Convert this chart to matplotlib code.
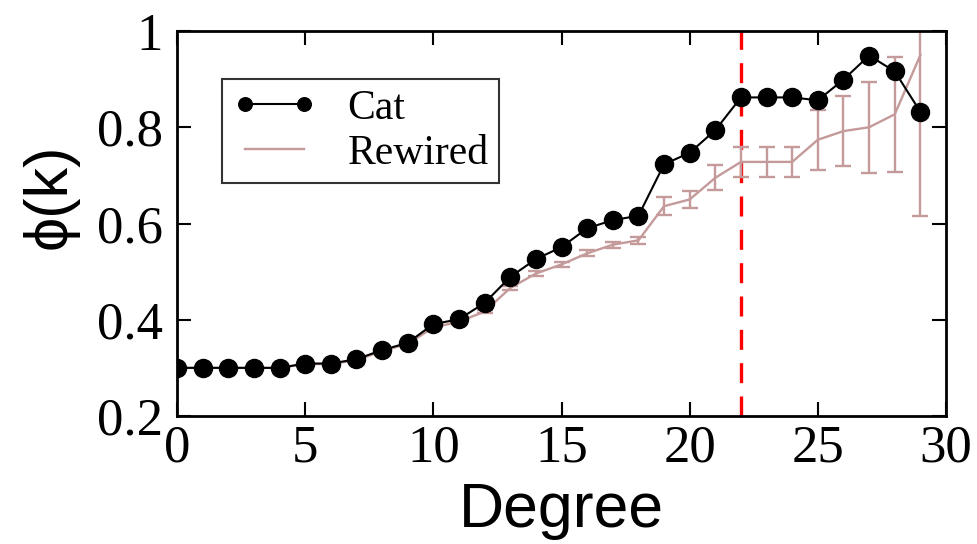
import matplotlib
matplotlib.use("Agg")
import matplotlib.pyplot as plt
from matplotlib.lines import Line2D

degree = list(range(30))
cat = [0.300, 0.300, 0.300, 0.300, 0.300, 0.309, 0.309, 0.318, 0.337, 0.352,
       0.391, 0.401, 0.435, 0.489, 0.526, 0.551, 0.590, 0.607, 0.616, 0.723,
       0.747, 0.794, 0.862, 0.862, 0.862, 0.856, 0.899, 0.949, 0.916, 0.832]
rewired = [0.300, 0.300, 0.300, 0.300, 0.300, 0.308, 0.308, 0.316, 0.335, 0.350,
           0.384, 0.396, 0.417, 0.466, 0.496, 0.515, 0.538, 0.556, 0.565, 0.636,
           0.650, 0.695, 0.728, 0.728, 0.728, 0.774, 0.792, 0.800, 0.827, 0.950]
rewired_err = [0.0, 0.0, 0.0, 0.0, 0.0, 0.0, 0.0, 0.001, 0.001, 0.002,
               0.002, 0.003, 0.004, 0.005, 0.005, 0.005, 0.006, 0.006, 0.007, 0.019,
               0.017, 0.026, 0.031, 0.031, 0.031, 0.062, 0.072, 0.095, 0.120, 0.334]
threshold = 22
xticks = [0, 5, 10, 15, 20, 25, 30]
yticks = [0.2, 0.4, 0.6, 0.8, 1.0]
ytick_labels = ["0.2", "0.4", "0.6", "0.8", "1"]

fig = plt.figure(figsize=(9.77, 5.44), dpi=100)
ax = fig.add_axes([0.1812, 0.2353, 0.7871, 0.7077])

rw_color = "#C49A9A"
ax.errorbar(degree, rewired, yerr=rewired_err, color=rw_color, lw=1.7,
            capsize=6, capthick=1.7, elinewidth=1.7, zorder=2)
ax.plot(degree, cat, color="black", lw=1.5, marker="o", markersize=13, zorder=3)
ax.axvline(threshold, color="red", lw=2.4, ls=(0, (6, 4)), zorder=1)

ax.set_xlim(0, 30)
ax.set_ylim(0.2, 1.0)
ax.set_xticks(xticks)
ax.set_yticks(yticks)
ax.set_yticklabels(ytick_labels)
serif = "Liberation Serif"
for lab in ax.get_xticklabels() + ax.get_yticklabels():
    lab.set_fontfamily(serif)
    lab.set_fontsize(38)
ax.tick_params(direction="in", length=10, width=1.5, top=True, right=True)
ax.tick_params(axis="y", pad=10)
ax.tick_params(axis="x", pad=6)
for s in ax.spines.values():
    s.set_linewidth(2)

ax.set_xlabel("Degree", fontsize=45, family="Liberation Sans", labelpad=6)
ax.set_ylabel("\u03d5(k)", fontsize=44, family=["Liberation Sans", "DejaVu Sans"])
ax.yaxis.set_label_coords(-0.128, 0.571)

h_cat = Line2D([], [], color="black", lw=1.5, marker="o", markersize=13)
h_rw = Line2D([], [], color=rw_color, lw=1.7)
leg = ax.legend([h_cat, h_rw], ["Cat", "Rewired"],
                loc="upper left", bbox_to_anchor=(0.059, 0.875), numpoints=2,
                markerscale=0.75, prop={"family": serif, "size": 30},
                frameon=True, fancybox=False, edgecolor="black",
                handlelength=2.0, handletextpad=0.75, borderpad=0.25,
                labelspacing=0.15, borderaxespad=0)
leg.get_frame().set_linewidth(1.5)

fig.savefig("out.png", dpi=100)
